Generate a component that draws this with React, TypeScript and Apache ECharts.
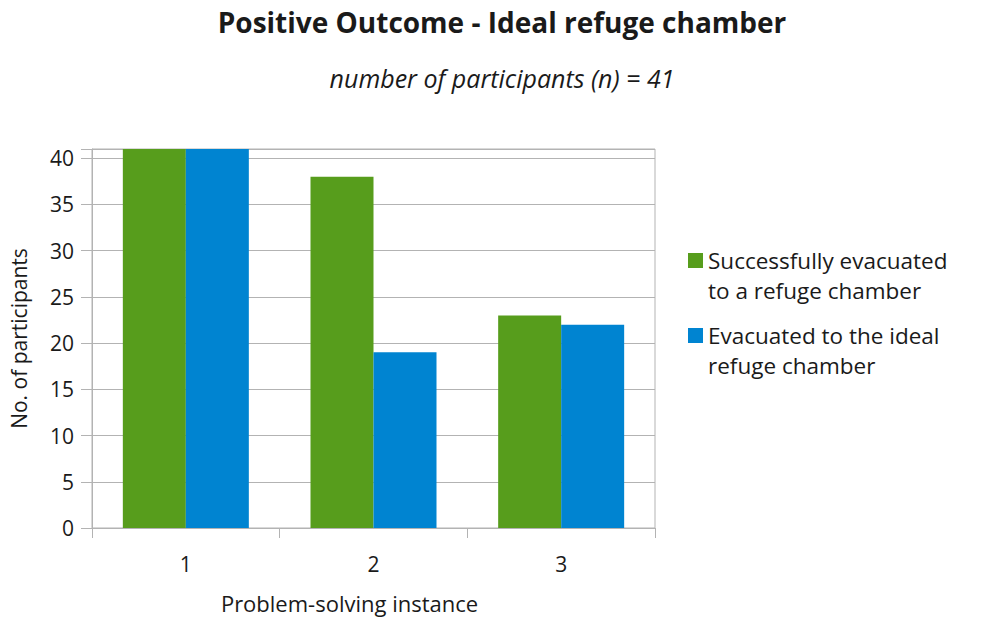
import React, { useEffect, useRef } from "react";
import * as echarts from "echarts";

const categories = ["1", "2", "3"];
const seriesNames = [
  "Successfully evacuated\nto a refuge chamber",
  "Evacuated to the ideal\nrefuge chamber",
];
const successfullyEvacuated = [41, 38, 23];
const idealChamber = [41, 19, 22];
const colors = ["#579d1c", "#0084d1"];
const FONT = "Open Sans";

export default function App() {
  const ref = useRef<HTMLDivElement>(null);
  useEffect(() => {
    if (!ref.current) return;
    const chart = echarts.init(ref.current, null, { renderer: "svg" });
    const legendText = {
      fontFamily: FONT,
      fontSize: 22.5,
      color: "#1a1a1a",
      lineHeight: 30,
    };
    const legendCommon = {
      left: 688,
      padding: 0,
      itemWidth: 15,
      itemHeight: 15,
      icon: "rect",
      formatter: (name: string) => "\n" + name,
      textStyle: legendText,
    };
    chart.setOption({
      animation: false,
      backgroundColor: "#ffffff",
      title: {
        text: "Positive Outcome - Ideal refuge chamber",
        subtext: "number of participants (n) = 41",
        left: 497,
        textAlign: "center",
        top: 3,
        itemGap: 29,
        textStyle: { fontFamily: FONT, fontSize: 28, fontWeight: "bold", color: "#1a1a1a" },
        subtextStyle: { fontFamily: FONT, fontSize: 25, fontStyle: "italic", color: "#1a1a1a" },
      },
      legend: [
        { ...legendCommon, data: [seriesNames[0]], top: 215.5 },
        { ...legendCommon, data: [seriesNames[1]], top: 290.5 },
      ],
      grid: {
        left: 92,
        right: 330,
        top: 149,
        bottom: 88,
        show: true,
        borderColor: "#b3b3b3",
        borderWidth: 1,
        containLabel: false,
      },
      xAxis: {
        type: "category",
        data: categories,
        name: "Problem-solving instance",
        nameLocation: "middle",
        nameGap: 64,
        nameTextStyle: { fontFamily: FONT, fontSize: 22, color: "#1a1a1a", padding: [0, 48, 0, 0] },
        axisLine: { show: true, lineStyle: { color: "#b3b3b3" } },
        axisTick: { show: true, alignWithLabel: false, length: 10, lineStyle: { color: "#b3b3b3" } },
        axisLabel: { margin: 25, fontFamily: FONT, fontSize: 21, color: "#1a1a1a" },
        splitLine: { show: false },
      },
      yAxis: {
        type: "value",
        min: 0,
        max: 41,
        interval: 5,
        name: "No. of participants",
        nameLocation: "middle",
        nameGap: 63,
        nameTextStyle: { fontFamily: FONT, fontSize: 21, color: "#1a1a1a" },
        axisLine: { show: true, lineStyle: { color: "#b3b3b3" } },
        axisTick: { show: true, inside: false, length: 11, lineStyle: { color: "#b3b3b3" } },
        axisLabel: {
          margin: 18,
          fontFamily: FONT,
          fontSize: 21,
          color: "#1a1a1a",
          formatter: (v: number) => (v % 5 === 0 ? String(v) : ""),
        },
        splitLine: { show: true, lineStyle: { color: "#b3b3b3" } },
      },
      series: [
        {
          name: seriesNames[0],
          type: "bar",
          data: successfullyEvacuated,
          barWidth: 63,
          barGap: "0%",
          itemStyle: { color: colors[0] },
        },
        {
          name: seriesNames[1],
          type: "bar",
          data: idealChamber,
          barWidth: 63,
          barGap: "0%",
          itemStyle: { color: colors[1] },
        },
      ],
    });
    return () => chart.dispose();
  }, []);
  return (
    <div
      ref={ref}
      style={{ position: "fixed", left: 0, top: 0, width: 985, height: 619 }}
    />
  );
}
